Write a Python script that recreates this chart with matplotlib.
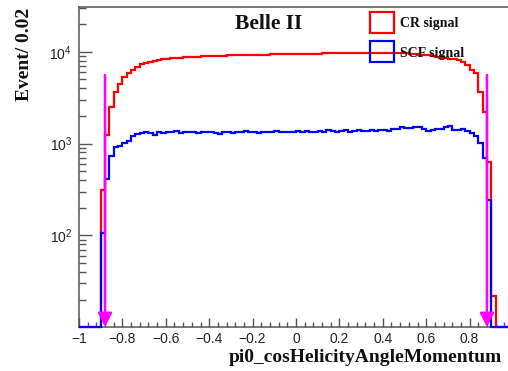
import numpy as np
import matplotlib
matplotlib.use("Agg")
import matplotlib.pyplot as plt
from matplotlib.patches import Rectangle
from matplotlib.ticker import FixedLocator, FixedFormatter, MultipleLocator, LogLocator, NullFormatter

# ---------------- data ----------------
bin_edges = np.round(np.arange(-1.0, 1.0001, 0.02), 2)

cr_signal = [
    0, 0, 0, 0, 0, 314, 1240, 2500, 3650, 4500,
    5250, 5800, 6300, 6850, 7300, 7550, 7750, 7950, 8100, 8250,
    8400, 8450, 8550, 8650, 8700, 8750, 8800, 8850, 8900, 8900,
    8950, 9000, 9000, 9050, 9100, 9100, 9150, 9150, 9200, 9200,
    9250, 9250, 9300, 9300, 9350, 9350, 9400, 9400, 9400, 9450,
    9450, 9500, 9500, 9500, 9550, 9550, 9600, 9600, 9650, 9650,
    9650, 9700, 9700, 9700, 9750, 9750, 9750, 9800, 9750, 9800,
    9800, 9750, 9750, 9700, 9650, 9600, 9500, 9400, 9300, 9200,
    9100, 8950, 8800, 8650, 8500, 8430, 8250, 8080, 7750, 7130,
    6400, 5800, 3650, 2220, 630, 21.6, 0, 0, 0, 0,
]

scf_signal = [
    0, 0, 0, 0, 0, 106, 411, 739, 912, 951,
    1007, 1079, 1222, 1280, 1310, 1320, 1290, 1240, 1350, 1310,
    1340, 1330, 1360, 1300, 1340, 1350, 1320, 1290, 1330, 1350,
    1330, 1300, 1280, 1320, 1350, 1300, 1340, 1330, 1360, 1320,
    1340, 1300, 1350, 1330, 1320, 1360, 1340, 1320, 1350, 1330,
    1360, 1340, 1380, 1350, 1330, 1370, 1350, 1390, 1360, 1340,
    1380, 1400, 1350, 1370, 1390, 1360, 1380, 1400, 1370, 1390,
    1410, 1380, 1430, 1450, 1530, 1480, 1460, 1500, 1500, 1430,
    1370, 1400, 1430, 1450, 1500, 1550, 1400, 1400, 1430, 1370,
    1290, 1210, 1005, 690, 240, 0, 0, 0, 0, 0,
]

series_labels = ["CR signal", "SCF signal"]
cut_positions = [-0.88, 0.88]
cut_top = 5560

x_ticks = [-1.0, -0.8, -0.6, -0.4, -0.2, 0.0, 0.2, 0.4, 0.6, 0.8]
x_tick_labels = ["\u22121", "\u22120.8", "\u22120.6", "\u22120.4", "\u22120.2",
                 "0", "0.2", "0.4", "0.6", "0.8"]
y_ticks = [1e2, 1e3, 1e4]
y_tick_labels = [r"$10^{2}$", r"$10^{3}$", r"$10^{4}$"]

x_label = "pi0_cosHelicityAngleMomentum"
y_label = "Event/ 0.02"
title_text = "Belle II"

# ---------------- style ----------------
plt.rcParams["font.family"] = ["Liberation Sans", "DejaVu Sans"]
plt.rcParams["mathtext.default"] = "regular"
W, H = 508, 371
serif = ["Liberation Serif", "DejaVu Serif"]
frame_col = "#555555"

fig = plt.figure(figsize=(W / 100, H / 100), dpi=100)
ax_left, ax_right, ax_top, ax_bot = 79, 508, 7, 327
ax = fig.add_axes([ax_left / W, 1 - ax_bot / H, (ax_right - ax_left) / W, (ax_bot - ax_top) / H])

ymin, ymax = 10.05, 30700
ax.set_yscale("log")
ax.set_xlim(-1.0, 0.977)
ax.set_ylim(ymin, ymax)

cr = np.maximum(np.array(cr_signal, float), ymin)
scf = np.maximum(np.array(scf_signal, float), ymin)
ax.stairs(cr, bin_edges, color="#ff0000", lw=1.6, baseline=None, clip_on=False, zorder=3)
ax.stairs(scf, bin_edges, color="#0000ff", lw=1.6, baseline=None, clip_on=False, zorder=4)

for xc in cut_positions:
    ax.annotate("", xy=(xc, ymin), xytext=(xc, cut_top),
                arrowprops=dict(arrowstyle="-|>,head_length=0.55,head_width=0.28",
                                color="#ff00ff", lw=1.8, shrinkA=0, shrinkB=0,
                                mutation_scale=15),
                zorder=5, annotation_clip=False)

# axes frame and ticks
for s in ["top", "left", "bottom"]:
    ax.spines[s].set_color(frame_col)
    ax.spines[s].set_linewidth(1.1)
ax.spines["right"].set_visible(False)

ax.xaxis.set_major_locator(FixedLocator(x_ticks))
ax.xaxis.set_major_formatter(FixedFormatter(x_tick_labels))
ax.xaxis.set_minor_locator(MultipleLocator(0.04))
ax.yaxis.set_major_locator(FixedLocator(y_ticks))
ax.yaxis.set_major_formatter(FixedFormatter(y_tick_labels))
ax.yaxis.set_minor_locator(LogLocator(base=10, subs=np.arange(2, 10)))
ax.yaxis.set_minor_formatter(NullFormatter())

ax.tick_params(axis="x", which="major", direction="in", length=6.5, width=1.0,
               color=frame_col, labelsize=10, pad=3.5, labelcolor="#222222",
               top=False, bottom=True)
ax.tick_params(axis="x", which="minor", direction="in", length=3.3, width=1.0,
               color=frame_col, top=False, bottom=True)
ax.tick_params(axis="y", which="major", direction="in", length=9.5, width=1.0,
               color=frame_col, labelsize=10, pad=5, labelcolor="#222222",
               right=False, left=True)
ax.tick_params(axis="y", which="minor", direction="in", length=5, width=1.0,
               color=frame_col, right=False, left=True)

# legend (ROOT-style boxes)
box_specs = [(370, 12.3, "#ff0000", 24), (370, 40.7, "#0000ff", 53)]
for (bx, by, col, ty), lab in zip(box_specs, series_labels):
    fig.patches.append(Rectangle((bx / W, 1 - (by + 21) / H), 24 / W, 21 / H,
                                 transform=fig.transFigure, fill=False,
                                 edgecolor=col, lw=1.6, zorder=6))
    fig.text(400 / W, 1 - ty / H, lab, family=serif, fontweight="bold",
             fontsize=10, ha="left", va="center", color="#111111", zorder=7)

fig.text(235 / W, 1 - 24 / H, title_text, family=serif, fontweight="bold",
         fontsize=15.5, ha="left", va="center", color="#111111")

fig.text(25 / W, 1 - 8 / H, y_label, family=serif, fontweight="bold",
         fontsize=14, rotation=90, ha="center", va="top", color="#111111")
fig.text(502 / W, 1 - 358 / H, x_label, family=serif, fontweight="bold",
         fontsize=14, ha="right", va="center", color="#111111")

fig.savefig("out.png", dpi=100)
